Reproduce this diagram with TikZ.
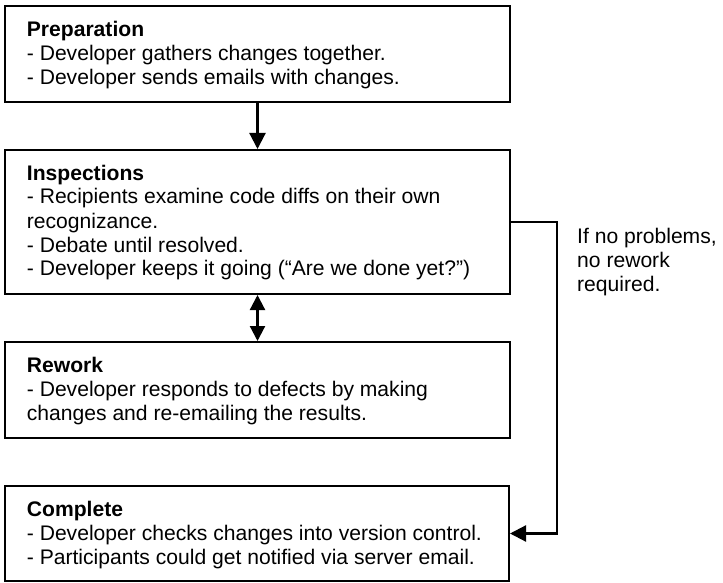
\documentclass[tikz,border=0pt]{standalone}
\usepackage{fontspec}
\setmainfont{Liberation Sans}
\usetikzlibrary{arrows.meta}
\tikzset{
  stage/.style={draw, line width=2pt, minimum width=505pt, inner sep=0pt},
  body/.style={anchor=base west, inner sep=0pt},
  arr/.style={line width=2.2pt, -{Triangle[length=16pt,width=16pt]}},
  darr/.style={line width=2.2pt, {Triangle[length=15pt,width=15pt]}-{Triangle[length=15pt,width=15pt]}}
}
\newcommand{\stagetext}[1]{\parbox[t]{480pt}{\fontsize{21.1}{24}\selectfont\raggedright #1}}
\begin{document}
\begin{tikzpicture}[x=1pt,y=-1pt]
\useasboundingbox (0,0) rectangle (723,583);
% boxes
\node[stage, minimum height=96pt]  (prep)   at (257.5,54.5) {};
\node[stage, minimum height=144pt] (insp)   at (257.5,222) {};
\node[stage, minimum height=96pt]  (rework) at (257.5,390) {};
\node[stage, minimum height=95pt, minimum width=504pt]  (done)   at (257,533.5) {};
% texts
\node[body] (preptext) at (26.7,36.7) {\stagetext{\textbf{Preparation}\\- Developer gathers changes together.\\- Developer sends emails with changes.}};
\node[body] (insptext) at (26.7,180) {\stagetext{\textbf{Inspections}\\- Recipients examine code diffs on their own\\recognizance.\\- Debate until resolved.\\- Developer keeps it going (“Are we done yet?”)}};
\node[body] (reworktext) at (26.7,372) {\stagetext{\textbf{Rework}\\- Developer responds to defects by making\\changes and re-emailing the results.}};
\node[body] (donetext) at (26.7,516) {\stagetext{\textbf{Complete}\\- Developer checks changes into version control.\\- Participants could get notified via server email.}};
\node[body] (cond) at (577,243) {\parbox[t]{150pt}{\fontsize{21.1}{24}\selectfont\raggedright If no problems,\\no rework\\required.}};
% connectors
\coordinate (bend) at (557,222);
\draw[arr] (prep) -- (insp);
\draw[darr] (insp) -- (rework);
\draw[arr] (insp.east) -- (insp.east -| bend) |- (done.east);
\end{tikzpicture}
\end{document}
